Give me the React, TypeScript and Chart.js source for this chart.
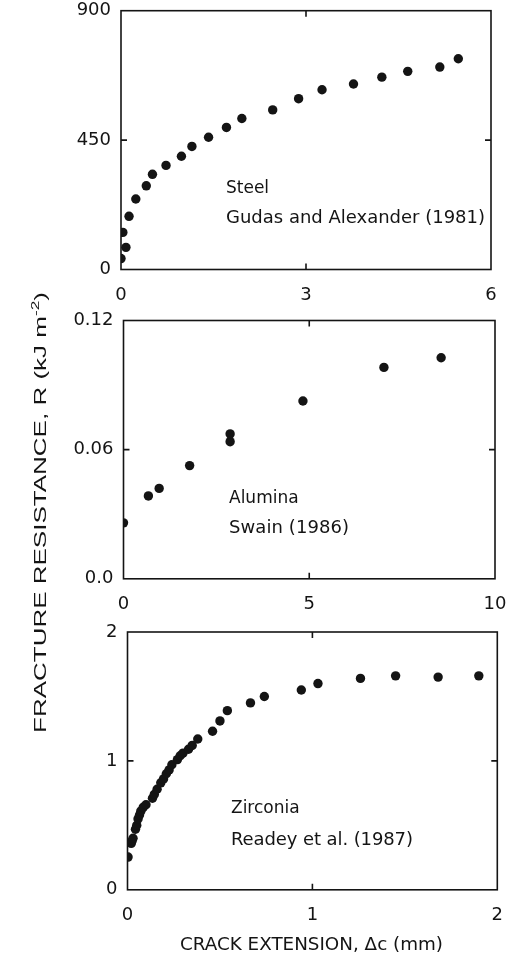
import React, { useEffect, useRef } from "react";
import { Chart, registerables } from "chart.js";
Chart.register(...registerables);

// ---------- DATA ----------
// Panel 1: Steel, Gudas and Alexander (1981)
const steelX = [0, 0.08, 0.03, 0.13, 0.24, 0.41, 0.51, 0.73, 0.98, 1.15, 1.42, 1.71, 1.96, 2.46, 2.88, 3.26, 3.77, 4.23, 4.65, 5.17, 5.47];
const steelR = [38, 77, 129, 185, 245, 291, 331, 362, 394, 428, 460, 494, 525, 555, 594, 625, 645, 669, 689, 704, 733];
const steelXTicks = [0, 3, 6];
const steelXLabels = ["0", "3", "6"];
const steelYTicks = [0, 450, 900];
const steelYLabels = ["0", "450", "900"];

// Panel 2: Alumina, Swain (1986)
const aluminaX = [0, 0.67, 0.96, 1.78, 2.87, 2.87, 4.83, 7.01, 8.55];
const aluminaR = [0.026, 0.0385, 0.042, 0.0526, 0.0637, 0.0673, 0.0826, 0.0982, 0.1027];
const aluminaXTicks = [0, 5, 10];
const aluminaXLabels = ["0", "5", "10"];
const aluminaYTicks = [0, 0.06, 0.12];
const aluminaYLabels = ["0.0", "0.06", "0.12"];

// Panel 3: Zirconia, Readey et al. (1987)
const zirconiaX = [0.003, 0.02, 0.025, 0.03, 0.043, 0.05, 0.057, 0.065, 0.072, 0.085, 0.10, 0.135, 0.145, 0.16, 0.18, 0.195, 0.21, 0.225, 0.24, 0.27, 0.285, 0.30, 0.33, 0.35, 0.38, 0.46, 0.50, 0.54, 0.665, 0.74, 0.94, 1.03, 1.26, 1.45, 1.68, 1.90];
const zirconiaR = [0.254, 0.36, 0.38, 0.40, 0.47, 0.50, 0.55, 0.58, 0.61, 0.64, 0.66, 0.71, 0.74, 0.78, 0.83, 0.86, 0.90, 0.93, 0.97, 1.01, 1.04, 1.06, 1.09, 1.12, 1.17, 1.23, 1.31, 1.39, 1.45, 1.50, 1.55, 1.60, 1.64, 1.66, 1.65, 1.66];
const zirconiaXTicks = [0, 1, 2];
const zirconiaXLabels = ["0", "1", "2"];
const zirconiaYTicks = [0, 1, 2];
const zirconiaYLabels = ["0", "1", "2"];

const panelNames = ["Steel", "Alumina", "Zirconia"];
const panelSources = ["Gudas and Alexander (1981)", "Swain (1986)", "Readey et al. (1987)"];
const yTitle = "FRACTURE RESISTANCE, R (kJ m";
const yTitleSup = "-2";
const xTitle = "CRACK EXTENSION, \u0394c (mm)";

// ---------- LAYOUT ----------
const W = 510;
const H = 963;
const INK = "#141414";

type Area = { l: number; r: number; t: number; b: number };

const framePlugin = {
  id: "frameTicks",
  beforeDatasetsDraw(chart: any, _args: any, opts: any) {
    const { ctx, chartArea } = chart;
    const { left, right, top, bottom } = chartArea;
    const xs = chart.scales.x;
    const ys = chart.scales.y;
    ctx.save();
    ctx.strokeStyle = INK;
    ctx.lineWidth = 1.6;
    ctx.strokeRect(left, top, right - left, bottom - top);
    const tl = 6;
    ctx.beginPath();
    for (const v of opts.xTicks as number[]) {
      const px = xs.getPixelForValue(v);
      if (Math.abs(px - left) < 1 || Math.abs(px - right) < 1) continue;
      ctx.moveTo(px, bottom);
      ctx.lineTo(px, bottom - tl);
      ctx.moveTo(px, top);
      ctx.lineTo(px, top + tl);
    }
    for (const v of opts.yTicks as number[]) {
      const py = ys.getPixelForValue(v);
      if (Math.abs(py - top) < 1 || Math.abs(py - bottom) < 1) continue;
      ctx.moveTo(left, py);
      ctx.lineTo(left + tl, py);
      ctx.moveTo(right, py);
      ctx.lineTo(right - tl, py);
    }
    ctx.stroke();
    ctx.restore();
  },
};

function Panel(props: {
  area: Area;
  xs: number[];
  ys: number[];
  xTicks: number[];
  xLabels: string[];
  yTicks: number[];
  yLabels: string[];
}) {
  const ref = useRef<HTMLCanvasElement | null>(null);
  const { area } = props;
  const padTop = 25;
  const canvasTop = Math.floor(area.t) - padTop;
  const innerTop = area.t - canvasTop;
  const canvasH = Math.ceil(area.b) - canvasTop + 45;
  const xAxisH = canvasH - (area.b - canvasTop);

  useEffect(() => {
    if (!ref.current) return;
    const pts = props.xs.map((x, i) => ({ x, y: props.ys[i] }));
    const tickFont = { family: "'DejaVu Sans'", size: 18 };
    const chart = new Chart(ref.current, {
      type: "scatter",
      data: {
        datasets: [
          {
            data: pts,
            backgroundColor: INK,
            borderWidth: 0,
            pointRadius: 4.7,
            pointHoverRadius: 4.7,
          },
        ],
      },
      options: {
        animation: false,
        responsive: false,
        devicePixelRatio: 1,
        events: [],
        layout: { padding: { left: 0, right: W - area.r, top: innerTop, bottom: 0 } },
        plugins: {
          legend: { display: false },
          tooltip: { enabled: false },
          frameTicks: { xTicks: props.xTicks, yTicks: props.yTicks },
        } as any,
        scales: {
          x: {
            type: "linear",
            min: props.xTicks[0],
            max: props.xTicks[props.xTicks.length - 1],
            grid: { display: false, drawTicks: false },
            border: { display: false },
            afterBuildTicks: (s: any) => {
              s.ticks = props.xTicks.map((v) => ({ value: v }));
            },
            afterFit: (s: any) => {
              s.height = xAxisH;
              s.paddingLeft = 0;
              s.paddingRight = 0;
            },
            ticks: {
              color: INK,
              font: tickFont,
              padding: 15,
              maxRotation: 0,
              autoSkip: false,
              callback: (v: any) => {
                const i = props.xTicks.indexOf(Number(v));
                return i >= 0 ? props.xLabels[i] : "";
              },
            },
          },
          y: {
            type: "linear",
            min: props.yTicks[0],
            max: props.yTicks[props.yTicks.length - 1],
            grid: { display: false, drawTicks: false },
            border: { display: false },
            afterBuildTicks: (s: any) => {
              s.ticks = props.yTicks.map((v) => ({ value: v }));
            },
            afterFit: (s: any) => {
              s.width = area.l;
              s.paddingTop = 0;
              s.paddingBottom = 0;
            },
            ticks: {
              color: INK,
              font: tickFont,
              padding: 10,
              autoSkip: false,
              callback: (v: any) => {
                const i = props.yTicks.findIndex((t) => Math.abs(t - Number(v)) < 1e-9);
                return i >= 0 ? props.yLabels[i] : "";
              },
            },
          },
        },
      },
      plugins: [framePlugin],
    } as any);
    return () => chart.destroy();
  }, []);

  return (
    <canvas
      ref={ref}
      width={W}
      height={canvasH}
      style={{ position: "absolute", left: 0, top: canvasTop, width: W, height: canvasH }}
    />
  );
}

const areas: Area[] = [
  { l: 121, r: 491, t: 10.7, b: 269.5 },
  { l: 123.5, r: 495, t: 320.5, b: 578.8 },
  { l: 127.5, r: 497.3, t: 632, b: 889.8 },
];

export default function App() {
  const annFont = "'DejaVu Sans', sans-serif";
  return (
    <div
      style={{
        position: "fixed",
        left: 0,
        top: 0,
        width: W,
        height: H,
        background: "#ffffff",
        overflow: "hidden",
      }}
    >
      <Panel area={areas[0]} xs={steelX} ys={steelR} xTicks={steelXTicks} xLabels={steelXLabels} yTicks={steelYTicks} yLabels={steelYLabels} />
      <Panel area={areas[1]} xs={aluminaX} ys={aluminaR} xTicks={aluminaXTicks} xLabels={aluminaXLabels} yTicks={aluminaYTicks} yLabels={aluminaYLabels} />
      <Panel area={areas[2]} xs={zirconiaX} ys={zirconiaR} xTicks={zirconiaXTicks} xLabels={zirconiaXLabels} yTicks={zirconiaYTicks} yLabels={zirconiaYLabels} />
      <svg
        width={W}
        height={H}
        style={{ position: "absolute", left: 0, top: 0, pointerEvents: "none" }}
      >
        <g fill={INK} fontFamily={annFont} fontSize={17}>
          <text x={226} y={193.3}>{panelNames[0]}</text>
          <text x={229} y={503.3}>{panelNames[1]}</text>
          <text x={231} y={813.3}>{panelNames[2]}</text>
        </g>
        <g fill={INK} fontFamily={annFont} fontSize={18}>
          <text x={226} y={223.3} textLength={259} lengthAdjust="spacing">{panelSources[0]}</text>
          <text x={229} y={533.3} textLength={120} lengthAdjust="spacing">{panelSources[1]}</text>
          <text x={231} y={844.5} textLength={182} lengthAdjust="spacing">{panelSources[2]}</text>
        </g>
        <text
          x={180}
          y={950}
          fill={INK}
          fontFamily={annFont}
          fontSize={17}
          textLength={263}
          lengthAdjust="spacingAndGlyphs"
        >
          {xTitle}
        </text>
        <text
          transform="translate(46,733) rotate(-90)"
          x={0}
          y={0}
          fill={INK}
          fontFamily="'Liberation Sans', Arial, sans-serif"
          fontSize={16.5}
          textLength={441}
          lengthAdjust="spacingAndGlyphs"
        >
          {yTitle}
          <tspan dy={-7} fontSize={11}>{yTitleSup}</tspan>
          <tspan dy={7}>)</tspan>
        </text>
      </svg>
    </div>
  );
}
